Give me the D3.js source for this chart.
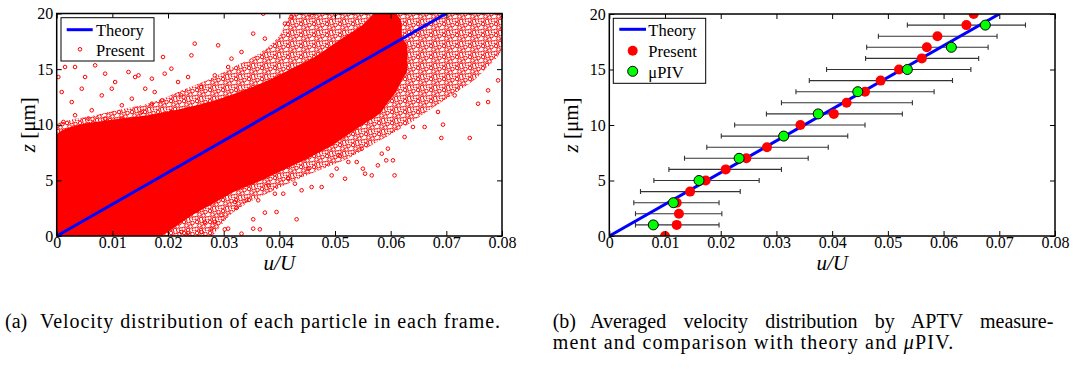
<!DOCTYPE html>
<html>
<head>
<meta charset="utf-8">
<script src="https://cdn.jsdelivr.net/npm/d3@7"></script>
<style>
  body { margin: 0; background: #fff; }
</style>
</head>
<body>
<svg id="fig" width="1074" height="369"></svg>
<script>
// ---- shared ticks
const xTicks = [0, 0.01, 0.02, 0.03, 0.04, 0.05, 0.06, 0.07, 0.08];
const yTicks = [0, 5, 10, 15, 20];

// ---- theory line (both panels)
const theoryU = [0, 0.07];
const theoryZ = [0, 20];

// ---- panel (a): particle cloud, read as density bands per z level
const bandZ  = [0, 1, 2, 3, 4, 5, 6, 7, 8, 9, 10, 11, 12, 13, 14, 15, 16, 17, 18, 19, 20];
const coreLo = [0, 0, 0, 0, 0, 0, 0, 0, 0, 0, 0.004, 0.018, 0.027, 0.033, 0.038, 0.042, 0.046, 0.049, 0.052, 0.055, 0.057];
const coreHi = [0.0189, 0.0218, 0.0248, 0.0284, 0.032, 0.0368, 0.041, 0.0452, 0.049, 0.052, 0.055, 0.058, 0.0595, 0.061, 0.062, 0.063, 0.063, 0.063, 0.062, 0.062, 0.061];
const haloLo = [0, 0, 0, 0, 0, 0, 0, 0, 0, 0, 0, 0.008, 0.017, 0.022, 0.027, 0.031, 0.035, 0.038, 0.040, 0.041, 0.042];
const haloHi = [0.028, 0.0296, 0.0314, 0.0344, 0.0386, 0.0428, 0.0476, 0.0524, 0.056, 0.0595, 0.063, 0.066, 0.069, 0.072, 0.075, 0.077, 0.079, 0.080, 0.080, 0.080, 0.080];

// scattered particles outside the dense band
const sparseU = [0.0003, 0.0015, 0.0033, 0.0051, 0.0069, 0.0087, 0.0105, 0.0129, 0.0147, 0.0171, 0.0176, 0.0194, 0.0206, 0.0218, 0.0236, 0.0248, 0.0260, 0.0284, 0.0290, 0.0308,
  0.0314, 0.0332, 0.0353, 0.0374, 0.0410, 0.0422, 0.0458, 0.0371, 0.0191, 0.0242, 0.0009, 0.0027, 0.0045, 0.0063, 0.0081, 0.0099, 0.0117, 0.0135, 0.0153, 0.0171,
  0.0189, 0.0206, 0.0224, 0.0033, 0.0012, 0.0057, 0.0087, 0.0117, 0.0141, 0.0159,
  0.0757, 0.0775, 0.0793, 0.0775, 0.0715, 0.0685,
  0.0742, 0.0691, 0.0694, 0.0661, 0.0640, 0.0607, 0.0604, 0.0592, 0.0577, 0.0566, 0.0554, 0.0550, 0.0539, 0.0518, 0.0503, 0.0476, 0.0458, 0.0440, 0.0428, 0.0407,
  0.0395, 0.0431, 0.0374, 0.0353, 0.0365, 0.0353, 0.0332, 0.0308, 0.0302, 0.0323, 0.0320, 0.0341, 0.0362, 0.0380, 0.0392, 0.0284, 0.0278, 0.0260, 0.0236, 0.0224,
  0.0494, 0.0524, 0.0595, 0.0625, 0.0584, 0.0506, 0.0548, 0.0452, 0.0416, 0.0296, 0.0266];
const sparseZ = [14.29, 15.19, 15.19, 14.29, 15.34, 14.59, 13.84, 14.74, 14.44, 14.14, 12.94, 14.59, 15.04, 13.84, 14.29, 17.29, 13.39, 14.44, 17.14, 15.19,
  15.94, 16.54, 18.19, 17.74, 19.09, 19.69, 19.83, 19.98, 16.09, 16.24, 12.94, 12.04, 13.24, 11.30, 12.64, 13.24, 11.75, 12.34, 11.15, 11.89,
  12.19, 11.15, 12.64, 10.85, 10.25, 10.55, 10.55, 10.55, 14.29, 13.24,
  11.89, 13.09, 13.99, 12.04, 12.64, 11.15,
  8.81, 8.81, 10.01, 9.80, 9.80, 5.45, 6.80, 6.80, 6.35, 5.45, 5.60, 6.05, 6.65, 5.15, 6.05, 4.40, 4.40, 4.11, 4.70, 3.80,
  2.16, 1.50, 2.10, 1.50, 0.60, 0.66, 0.21, 0.66, 0.60, 2.52, 3.06, 3.21, 3.21, 4.55, 3.80, 1.26, 0.66, 0.36, 0.27, 0.36,
  5.45, 6.65, 7.85, 8.90, 7.40, 7.25, 7.85, 6.05, 5.15, 1.86, 1.26];

// ---- panel (b): averaged values
const presentZ = [0, 1, 2, 3, 4, 5, 6, 7, 8, 9, 10, 11, 12, 13, 14, 15, 16, 17, 18, 19, 20];
const presentU = [0.0100, 0.0121, 0.0125, 0.0121, 0.0145, 0.0173, 0.0209, 0.0246, 0.0283, 0.0313, 0.0343, 0.0403, 0.0426, 0.0459, 0.0487, 0.0520, 0.0561, 0.0570, 0.0589, 0.0641, 0.0654];
const errZ  = [1, 2, 3, 4, 5, 6, 7, 8, 9, 10, 11, 12, 13, 14, 15, 16, 17, 18, 19];
const errLo = [0.0047, 0.0047, 0.0044, 0.0056, 0.0080, 0.0107, 0.0135, 0.0175, 0.0201, 0.0225, 0.0282, 0.0309, 0.0335, 0.0359, 0.0390, 0.0460, 0.0462, 0.0483, 0.0535];
const errHi = [0.0197, 0.0202, 0.0197, 0.0235, 0.0269, 0.0309, 0.0357, 0.0393, 0.0428, 0.0459, 0.0526, 0.0544, 0.0583, 0.0616, 0.0649, 0.0663, 0.0680, 0.0696, 0.0747];
const pivZ = [1, 3, 5, 7, 9, 11, 13, 15, 17, 19];
const pivU = [0.0079, 0.0115, 0.0161, 0.0233, 0.0313, 0.0375, 0.0446, 0.0535, 0.0614, 0.0675];

const SERIF = "'Liberation Serif', Tinos, 'Times New Roman', Times, 'DejaVu Serif', serif";
const svg = d3.select("#fig").style("font-family", SERIF);
const RED = "#ff0000", BLUE = "#0000ff", GREEN = "#00ff00";

// ring texture for the medium-density part of the cloud
const defs = svg.append("defs");
const pat = defs.append("pattern")
  .attr("id", "speckle")
  .attr("patternUnits", "userSpaceOnUse")
  .attr("width", 13).attr("height", 11);
[[2, 2], [6.5, 1], [10.5, 3], [4.5, 5.5], [8.5, 6.5], [1.5, 9], [12, 9.5], [6, 10]].forEach(p => {
  pat.append("circle").attr("cx", p[0]).attr("cy", p[1]).attr("r", 1.8)
    .attr("fill", "none").attr("stroke", RED).attr("stroke-width", 1);
});

function makePanel(left, right, top, bottom, clipId) {
  const x = d3.scaleLinear().domain([0, 0.08]).range([left, right]);
  const y = d3.scaleLinear().domain([0, 20]).range([bottom, top]);
  defs.append("clipPath").attr("id", clipId)
    .append("rect").attr("x", left).attr("y", top)
    .attr("width", right - left).attr("height", bottom - top);
  return { x, y };
}

function drawFrame(p, ylabX) {
  const g = svg.append("g");
  const fmt = d => d === 0 ? "0" : d3.format(".2f")(d);
  g.append("g").attr("transform", `translate(0,${p.y(0)})`)
    .call(d3.axisBottom(p.x).tickValues(xTicks).tickFormat(fmt).tickSizeInner(-5).tickSizeOuter(0).tickPadding(0.5));
  g.append("g").attr("transform", `translate(0,${p.y(20)})`)
    .call(d3.axisTop(p.x).tickValues(xTicks).tickFormat("").tickSizeInner(-5).tickSizeOuter(0));
  g.append("g").attr("transform", `translate(${p.x(0)},0)`)
    .call(d3.axisLeft(p.y).tickValues(yTicks).tickSizeInner(-5).tickSizeOuter(0).tickPadding(3.5));
  g.append("g").attr("transform", `translate(${p.x(0.08)},0)`)
    .call(d3.axisRight(p.y).tickValues(yTicks).tickFormat("").tickSizeInner(-5).tickSizeOuter(0));
  g.selectAll(".domain").remove();
  g.selectAll("g").attr("font-family", null);
  g.selectAll(".tick line").attr("stroke", "#000").attr("stroke-width", 1);
  g.selectAll(".tick text").style("font-size", "16px").attr("fill", "#000");
  g.append("rect")
    .attr("x", p.x(0)).attr("y", p.y(20))
    .attr("width", p.x(0.08) - p.x(0)).attr("height", p.y(0) - p.y(20))
    .attr("fill", "none").attr("stroke", "#000").attr("stroke-width", 1.5);

  // axis titles
  g.append("text")
    .attr("x", (p.x(0) + p.x(0.08)) / 2).attr("y", 269.5)
    .attr("text-anchor", "middle").style("font-size", "21px").style("font-style", "italic")
    .text("u/U");
  const yl = g.append("text")
    .attr("transform", `translate(${ylabX},${(p.y(0) + p.y(20)) / 2}) rotate(-90)`)
    .attr("text-anchor", "middle").style("font-size", "21px");
  yl.append("tspan").style("font-style", "italic").text("z");
  yl.append("tspan").text(" [μm]");
}

function theoryLine(g, p) {
  const line = d3.line().x(d => p.x(d[0])).y(d => p.y(d[1]));
  g.append("path")
    .datum(theoryU.map((u, i) => [u, theoryZ[i]]))
    .attr("d", line)
    .attr("fill", "none").attr("stroke", BLUE).attr("stroke-width", 3);
}

// ================= panel (a)
const pa = makePanel(56.7, 502, 13.5, 236, "clipA");
const ga = svg.append("g").attr("clip-path", "url(#clipA)");

const halo = d3.area()
  .curve(d3.curveMonotoneY)
  .y((d, i) => pa.y(bandZ[i]))
  .x0((d, i) => pa.x(haloLo[i]))
  .x1((d, i) => pa.x(haloHi[i]));
ga.append("path").datum(bandZ).attr("d", halo).attr("fill", "url(#speckle)");

const core = d3.area()
  .curve(d3.curveMonotoneY)
  .y((d, i) => pa.y(bandZ[i]))
  .x0((d, i) => pa.x(coreLo[i]))
  .x1((d, i) => pa.x(coreHi[i]));
ga.append("path").datum(bandZ).attr("d", core).attr("fill", RED);

ga.selectAll("circle.sparse")
  .data(sparseU.map((u, i) => [u, sparseZ[i]]))
  .join("circle")
  .attr("class", "sparse")
  .attr("cx", d => pa.x(d[0])).attr("cy", d => pa.y(d[1]))
  .attr("r", 1.8).attr("fill", "none").attr("stroke", RED).attr("stroke-width", 1);

theoryLine(svg.append("g").attr("clip-path", "url(#clipA)"), pa);
drawFrame(pa, 35);

// legend (a)
const la = svg.append("g").style("font-size", "16.5px");
la.append("rect").attr("x", 61).attr("y", 17.7).attr("width", 93).attr("height", 43.3)
  .attr("fill", "#fff").attr("stroke", "#000").attr("stroke-width", 1);
la.append("line").attr("x1", 66.7).attr("x2", 92.7).attr("y1", 29.7).attr("y2", 29.7)
  .attr("stroke", BLUE).attr("stroke-width", 3);
la.append("text").attr("x", 96).attr("y", 35.5).text("Theory");
la.append("circle").attr("cx", 80).attr("cy", 49.3).attr("r", 1.8)
  .attr("fill", "none").attr("stroke", RED).attr("stroke-width", 1);
la.append("text").attr("x", 96).attr("y", 55.5).text("Present");

// ================= panel (b)
const pb = makePanel(609.3, 1055, 14, 236, "clipB");
const gb = svg.append("g").attr("clip-path", "url(#clipB)");

const bars = gb.append("g").attr("stroke", "#333").attr("stroke-width", 1.1);
errZ.forEach((z, i) => {
  const yy = pb.y(z);
  bars.append("line").attr("x1", pb.x(errLo[i])).attr("x2", pb.x(errHi[i])).attr("y1", yy).attr("y2", yy);
  [errLo[i], errHi[i]].forEach(u => {
    bars.append("line").attr("x1", pb.x(u)).attr("x2", pb.x(u)).attr("y1", yy - 2.5).attr("y2", yy + 2.5);
  });
});

theoryLine(gb, pb);

gb.selectAll("circle.present")
  .data(presentU.map((u, i) => [u, presentZ[i]]))
  .join("circle").attr("class", "present")
  .attr("cx", d => pb.x(d[0])).attr("cy", d => pb.y(d[1]))
  .attr("r", 5).attr("fill", RED);

svg.append("g").selectAll("circle.piv")
  .data(pivU.map((u, i) => [u, pivZ[i]]))
  .join("circle").attr("class", "piv")
  .attr("cx", d => pb.x(d[0])).attr("cy", d => pb.y(d[1]))
  .attr("r", 5).attr("fill", GREEN).attr("stroke", "#000").attr("stroke-width", 1);

drawFrame(pb, 578);

// legend (b)
const lb = svg.append("g").style("font-size", "16.5px");
lb.append("rect").attr("x", 613.3).attr("y", 18.3).attr("width", 92.4).attr("height", 65)
  .attr("fill", "#fff").attr("stroke", "#000").attr("stroke-width", 1);
lb.append("line").attr("x1", 619.3).attr("x2", 646).attr("y1", 29.3).attr("y2", 29.3)
  .attr("stroke", BLUE).attr("stroke-width", 3);
lb.append("text").attr("x", 648.3).attr("y", 35.5).text("Theory");
lb.append("circle").attr("cx", 632.7).attr("cy", 50.7).attr("r", 5).attr("fill", RED);
lb.append("text").attr("x", 648.3).attr("y", 56.5).text("Present");
lb.append("circle").attr("cx", 632.7).attr("cy", 71.3).attr("r", 5)
  .attr("fill", GREEN).attr("stroke", "#000").attr("stroke-width", 1);
lb.append("text").attr("x", 648.3).attr("y", 77.5).text("μPIV");

// ================= captions (stretched to the printed line widths)
const cap = svg.append("g").style("font-size", "20px");
cap.append("text").attr("x", 5).attr("y", 328).text("(a)");
cap.append("text").attr("x", 40).attr("y", 328)
  .attr("textLength", 460).attr("lengthAdjust", "spacing")
  .text("Velocity distribution of each particle in each frame.");
cap.append("text").attr("x", 552.7).attr("y", 328).text("(b)");
const l1 = cap.append("text").attr("x", 590).attr("y", 328)
  .text("Averaged velocity distribution by APTV measure-");
const natural = l1.node().getComputedTextLength();
const gaps = l1.text().split(" ").length - 1;
l1.style("word-spacing", ((1053.3 - 590 - natural) / gaps) + "px");
const l2 = cap.append("text").attr("x", 552.7).attr("y", 349.3)
  .attr("textLength", 400.6).attr("lengthAdjust", "spacing");
l2.append("tspan").text("ment and comparison with theory and ");
l2.append("tspan").style("font-style", "italic").text("μ");
l2.append("tspan").text("PIV.");
</script>
</body>
</html>
